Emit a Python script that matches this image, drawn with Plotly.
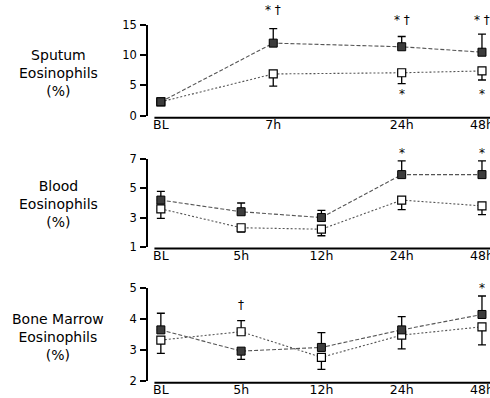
import plotly.graph_objects as go

# ---------------- data ----------------
sp_x = [0, 1.4, 3, 4]
sp_labels = ["BL", "7h", "24h", "48h"]
sp_filled = [2.3, 12.0, 11.4, 10.5]
sp_filled_up = [0, 2.4, 1.7, 3.0]
sp_filled_dn = [0, 0, 0, 0]
sp_open = [2.3, 6.9, 7.1, 7.4]
sp_open_up = [0, 0, 0, 0]
sp_open_dn = [0, 2.0, 1.8, 1.5]

tp_x = [0, 1, 2, 3, 4]
tp_labels = ["BL", "5h", "12h", "24h", "48h"]

bl_filled = [4.2, 3.4, 3.0, 5.95, 5.95]
bl_filled_up = [0.6, 0.6, 0.5, 0.95, 0.95]
bl_filled_dn = [0, 0, 0, 0, 0]
bl_open = [3.6, 2.3, 2.2, 4.2, 3.8]
bl_open_up = [0, 0, 0, 0, 0]
bl_open_dn = [0.65, 0.3, 0.45, 0.65, 0.6]

bm_filled = [3.65, 2.96, 3.08, 3.65, 4.15]
bm_filled_up = [0.54, 0, 0.48, 0.43, 0.6]
bm_filled_dn = [0, 0.27, 0, 0, 0]
bm_open = [3.32, 3.59, 2.76, 3.48, 3.75]
bm_open_up = [0, 0.36, 0, 0, 0]
bm_open_dn = [0.43, 0, 0.39, 0.45, 0.59]

titles = ["Sputum<br>Eosinophils<br>(%)", "Blood<br>Eosinophils<br>(%)",
          "Bone Marrow<br>Eosinophils<br>(%)"]
y_ranges = [[0, 15], [1, 7], [2, 5]]
y_ticks = [[0, 5, 10, 15], [1, 3, 5, 7], [2, 3, 4, 5]]

# significance marks: (panel, x, y in data units, text)
sig_marks = [
    (1, 1.4, 17.4, "* †"), (1, 3, 15.9, "* †"), (1, 4, 15.9, "* †"),
    (1, 3, 3.6, "*"), (1, 4, 3.6, "*"),
    (2, 3, 7.45, "*"), (2, 4, 7.45, "*"),
    (3, 1, 4.46, "†"), (3, 4, 5.0, "*"),
]

FONT = "DejaVu Sans"
line_col = "#555555"
fill_col = "#3c3c3c"

fig = go.Figure()

panels = [
    (sp_x, sp_filled, sp_filled_up, sp_filled_dn, sp_open, sp_open_up, sp_open_dn),
    (tp_x, bl_filled, bl_filled_up, bl_filled_dn, bl_open, bl_open_up, bl_open_dn),
    (tp_x, bm_filled, bm_filled_up, bm_filled_dn, bm_open, bm_open_up, bm_open_dn),
]

for i, (xs, fv, fu, fd, ov, ou, od) in enumerate(panels):
    sfx = "" if i == 0 else str(i + 1)
    fig.add_trace(go.Scatter(
        x=xs, y=ov, mode="lines+markers", xaxis="x" + sfx, yaxis="y" + sfx,
        line=dict(color=line_col, width=1.1, dash="2px,2px"),
        marker=dict(symbol="square", size=8, color="white",
                    line=dict(color="black", width=1.2)),
        error_y=dict(type="data", symmetric=False, array=ou, arrayminus=od,
                     color="black", thickness=1.3, width=4),
        showlegend=False, cliponaxis=False))
    fig.add_trace(go.Scatter(
        x=xs, y=fv, mode="lines+markers", xaxis="x" + sfx, yaxis="y" + sfx,
        line=dict(color=line_col, width=1.1, dash="4px,2px"),
        marker=dict(symbol="square", size=8, color=fill_col,
                    line=dict(color="black", width=1)),
        error_y=dict(type="data", symmetric=False, array=fu, arrayminus=fd,
                     color="black", thickness=1.3, width=4),
        showlegend=False, cliponaxis=False))

y_domains = [[0.7093, 0.9372], [0.3802, 0.5997], [0.0435, 0.2756]]
x_tickvals = [sp_x, tp_x, tp_x]
x_ticktext = [sp_labels, tp_labels, tp_labels]
title_y = [0.8158, 0.4874, 0.1533]

layout = dict(
    width=490, height=398, autosize=False,
    margin=dict(l=148, r=0, t=0, b=0, pad=0),
    paper_bgcolor="white", plot_bgcolor="white",
    font=dict(family=FONT, color="black", size=12),
    showlegend=False,
)
shapes = []
annotations = []
for i in range(3):
    sfx = "" if i == 0 else str(i + 1)
    layout["xaxis" + sfx] = dict(
        domain=[0, 1], range=[-0.16, 4.1], anchor="y" + sfx,
        tickmode="array", tickvals=x_tickvals[i], ticktext=x_ticktext[i],
        ticks="", showline=False, showgrid=False, zeroline=False,
        tickfont=dict(family=FONT, size=12.5, color="black"),
        ticklabelstandoff=0, ticklabeloverflow="allow",
        fixedrange=True, automargin=False)
    layout["yaxis" + sfx] = dict(
        domain=y_domains[i], range=y_ranges[i], anchor="x" + sfx,
        tickmode="array", tickvals=y_ticks[i],
        ticks="outside", ticklen=6, tickwidth=1.5, tickcolor="black",
        showline=True, linewidth=1.5, linecolor="black",
        showgrid=False, zeroline=False,
        tickfont=dict(family=FONT, size=11.5, color="black"),
        ticklabelstandoff=1, fixedrange=True, automargin=False)
    xr = "x" + sfx
    shapes.append(dict(type="line", xref=xr, yref="y" + sfx + " domain",
                       x0=-0.08, x1=4.12, y0=-0.022, y1=-0.022,
                       line=dict(color="black", width=2)))
    annotations.append(dict(
        text=titles[i], xref="paper", yref="paper",
        x=(58 - 148) / 342, y=title_y[i], xanchor="center", yanchor="middle",
        align="center", showarrow=False,
        font=dict(family=FONT, size=14, color="black")))

for p, x, y, t in sig_marks:
    sfx = "" if p == 1 else str(p)
    lo, hi = y_ranges[p - 1]
    annotations.append(dict(text=t, x=x, y=(y - lo) / (hi - lo),
                            xref="x" + sfx, yref="y" + sfx + " domain",
                            showarrow=False, xanchor="center", yanchor="middle",
                            font=dict(family=FONT, size=12, color="black")))

layout["shapes"] = shapes
layout["annotations"] = annotations
fig.update_layout(**layout)

fig.write_html(
    "out.html",
    config={"displayModeBar": False},
    post_script="document.body.style.margin='0';document.body.style.overflow='hidden';",
)
